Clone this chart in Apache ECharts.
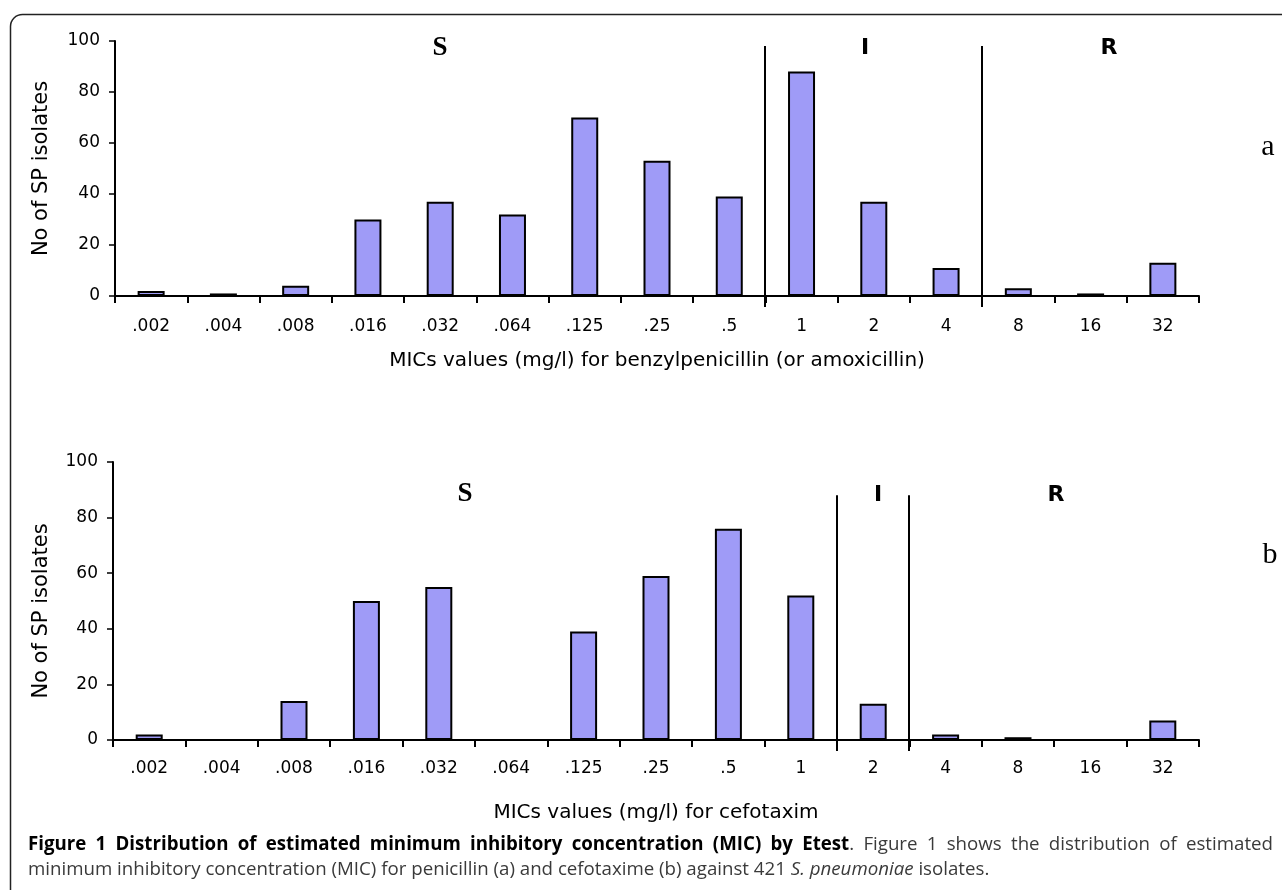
<!DOCTYPE html>
<html>
<head>
<meta charset="utf-8">
<script src="https://cdn.jsdelivr.net/npm/echarts@6/dist/echarts.min.js"></script>
<style>
html,body{margin:0;padding:0;background:#fff;}
#chart{width:1282px;height:890px;}
</style>
</head>
<body>
<div id="chart"></div>
<script>
// ---- data ----
const categoriesA = ['.002', '.004', '.008', '.016', '.032', '.064', '.125', '.25', '.5', '1', '2', '4', '8', '16', '32'];
const valuesA = [2, 1, 4, 30, 37, 32, 70, 53, 39, 88, 37, 11, 3, 1, 13];
const categoriesB = ['.002', '.004', '.008', '.016', '.032', '.064', '.125', '.25', '.5', '1', '2', '4', '8', '16', '32'];
const valuesB = [2, 0, 14, 50, 55, 0, 39, 59, 76, 52, 13, 2, 1, 0, 7];
// category after which a S/I/R breakpoint line is drawn, with the line's top value
const breaksA = ['.5', '4'];
const breakTopA = [98, 98];
const breaksB = ['1', '2'];
const breakTopB = [88, 88];
const zoneLabels = ['S', 'I', 'R'];
const panelLabels = ['a', 'b'];
const yTitle = 'No of SP isolates';
const xTitleA = 'MICs values (mg/l) for benzylpenicillin (or amoxicillin)';
const xTitleB = 'MICs values (mg/l) for cefotaxim';
const yMin = 0, yMax = 100, yStep = 20;
const captionBold = 'Figure 1 Distribution of estimated minimum inhibitory concentration (MIC) by Etest';
const captionRest1 = '. Figure 1 shows the distribution of estimated';
const captionLine2a = 'minimum inhibitory concentration (MIC) for penicillin (a) and cefotaxime (b) against 421 ';
const captionItalic = 'S. pneumoniae';
const captionLine2b = ' isolates.';

const chart = echarts.init(document.getElementById('chart'), null, {renderer: 'canvas'});
const BAR = '#9f9bf7';
const tickFont = {fontFamily: 'DejaVu Sans', fontSize: 17, color: '#000'};

function xAxis(gridIndex, cats, name, labelMargin, nameGap) {
  return {
    type: 'category', gridIndex, data: cats,
    axisLine: {lineStyle: {color: '#000', width: 2}},
    axisTick: {show: true, interval: 0, length: 7, lineStyle: {color: '#000', width: 2}},
    axisLabel: Object.assign({interval: 0, margin: labelMargin}, tickFont),
    name, nameLocation: 'middle', nameGap,
    nameTextStyle: {fontFamily: 'DejaVu Sans', fontSize: 20, color: '#000'}
  };
}
function yAxis(gridIndex, nameGap, pad) {
  return {
    type: 'value', gridIndex, min: yMin, max: yMax, interval: yStep,
    axisLine: {show: true, lineStyle: {color: '#000', width: 2}},
    axisTick: {show: true, length: 6, lineStyle: {color: '#000', width: 1.5}},
    splitLine: {show: false},
    axisLabel: Object.assign({margin: 15}, tickFont),
    name: yTitle, nameLocation: 'middle', nameGap,
    nameTextStyle: {fontFamily: 'DejaVu Sans', fontSize: 21, color: '#000', padding: pad}
  };
}
function barSeries(idx, vals) {
  return {
    type: 'bar', xAxisIndex: idx, yAxisIndex: idx, data: vals, barWidth: 27,
    itemStyle: {color: BAR, borderColor: '#000', borderWidth: 2},
    animation: false
  };
}
function breakSeries(idx, cats, breaks, tops) {
  const data = breaks.map((b, i) => [cats.indexOf(b), tops[i]]);
  return {
    type: 'custom', xAxisIndex: idx, yAxisIndex: idx, data, clip: false, silent: true,
    animation: false,
    renderItem: function (params, api) {
      const c = api.value(0);
      const top = api.coord([c, api.value(1)]);
      const base = api.coord([c, 0]);
      const w = api.size([1, 0])[0];
      const x = Math.round(top[0] + w / 2);
      return {type: 'line', shape: {x1: x, y1: top[1], x2: x, y2: base[1] + 11},
        style: {stroke: '#000', lineWidth: 2}};
    }
  };
}

function zoneText(txt, x, y, serif) {
  return {type: 'text', x, y, style: {text: txt,
    font: serif ? 'bold 27px "Liberation Serif"' : 'bold 22px "DejaVu Sans"',
    fill: '#000', align: 'center', verticalAlign: 'middle'}};
}

// ---- caption (line 1 justified between x0 and x1) ----
const CAP = 18.7;
const fontB = 'bold ' + CAP + 'px "Open Sans"';
const fontR = CAP + 'px "Open Sans"';
const fontI = 'italic ' + CAP + 'px "Open Sans"';
const GRAY = '#3a3a3a';
const mctx = document.createElement('canvas').getContext('2d');
function mw(t, f) { mctx.font = f; return mctx.measureText(t).width; }
const capX0 = 28, capX1 = 1273, capY1 = 845, capY2 = 870;
const tokens = [];
captionBold.split(' ').forEach(w => tokens.push([[w, 'b']]));
const rest = captionRest1.split(' '); // ['.', 'Figure', ...]
tokens[tokens.length - 1].push([rest[0], 'r']);
rest.slice(1).forEach(w => tokens.push([[w, 'r']]));
const fontOf = {b: fontB, r: fontR};
const tokW = tokens.map(tk => tk.reduce((s, p) => s + mw(p[0], fontOf[p[1]]), 0));
const totalW = tokW.reduce((a, b) => a + b, 0);
const gap = (capX1 - capX0 - totalW) / (tokens.length - 1);
const capGraphics = [];
let cx = capX0;
tokens.forEach((tk, i) => {
  capGraphics.push({type: 'text', x: cx, y: capY1, style: {
    text: tk.map(p => '{' + p[1] + '|' + p[0] + '}').join(''),
    verticalAlign: 'middle',
    rich: {
      b: {font: fontB, fill: '#000', color: '#000'},
      r: {font: fontR, fill: GRAY, color: GRAY}
    }}});
  cx += tokW[i] + gap;
});
capGraphics.push({type: 'text', x: capX0, y: capY2, style: {
  text: '{r|' + captionLine2a + '}{i|' + captionItalic + '}{r|' + captionLine2b + '}',
  verticalAlign: 'middle',
  rich: {
    r: {font: fontR, fill: GRAY, color: GRAY},
    i: {font: fontI, fill: GRAY, color: GRAY}
  }}});

const option = {
  backgroundColor: '#fff',
  animation: false,
  grid: [
    {left: 115, top: 41, width: 1084, height: 255},
    {left: 113, top: 462, width: 1086, height: 278}
  ],
  xAxis: [xAxis(0, categoriesA, xTitleA, 22, 55), xAxis(1, categoriesB, xTitleB, 20, 63)],
  yAxis: [yAxis(0, 63, [0, 0, 0, 0]), yAxis(1, 61, [0, 20, 0, 0])],
  series: [
    barSeries(0, valuesA), barSeries(1, valuesB),
    breakSeries(0, categoriesA, breaksA, breakTopA),
    breakSeries(1, categoriesB, breaksB, breakTopB)
  ],
  graphic: [
    {type: 'rect', shape: {x: 10.5, y: 14.5, width: 1300, height: 900, r: 12},
      style: {fill: 'none', stroke: '#222', lineWidth: 1.5}, z: -1},
    zoneText(zoneLabels[0], 440, 48, true),
    zoneText(zoneLabels[1], 865, 48, false),
    zoneText(zoneLabels[2], 1109, 48, false),
    zoneText(zoneLabels[0], 465, 494, true),
    zoneText(zoneLabels[1], 878, 495, false),
    zoneText(zoneLabels[2], 1056, 495, false),
    {type: 'text', x: 1268, y: 147, style: {text: panelLabels[0], font: '30px "Liberation Serif"', fill: '#000', align: 'center', verticalAlign: 'middle'}},
    {type: 'text', x: 1270, y: 555, style: {text: panelLabels[1], font: '30px "Liberation Serif"', fill: '#000', align: 'center', verticalAlign: 'middle'}}
  ].concat(capGraphics)
};
chart.setOption(option);
</script>
</body>
</html>
